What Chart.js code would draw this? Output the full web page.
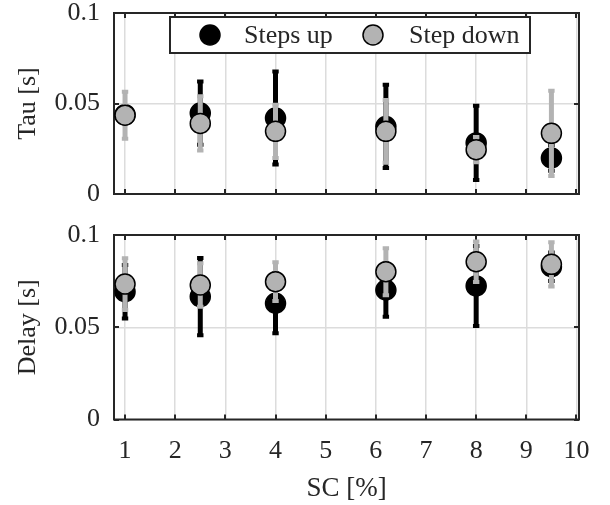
<!DOCTYPE html>
<html>
<head>
<meta charset="utf-8">
<script src="https://cdn.jsdelivr.net/npm/chart.js@4.4.1/dist/chart.umd.min.js"></script>
<style>
  html, body { margin: 0; padding: 0; background: #ffffff; }
  #wrap { position: relative; width: 610px; height: 505px; }
  canvas { position: absolute; left: 0; }
  #tauChart { top: 0; }
  #delayChart { top: 210px; }
</style>
</head>
<body>
<div id="wrap">
  <canvas id="tauChart" width="610" height="210"></canvas>
  <canvas id="delayChart" width="610" height="295"></canvas>
</div>
<script>
// Short-circuit level (%) at which each group of steps was measured
const scPercent = [1, 2.5, 4, 6.2, 8, 9.5];

// Time constant (s): mean and half-width of the spread
const tauUp       = [0.0438, 0.0447, 0.0420, 0.0373, 0.0282, 0.0199];
const tauUpErr    = [0.0040, 0.0175, 0.0257, 0.0230, 0.0205, 0.0070];
const tauDown     = [0.0435, 0.0390, 0.0346, 0.0346, 0.0245, 0.0335];
const tauDownErr  = [0.0130, 0.0150, 0.0147, 0.0173, 0.0070, 0.0235];

// Delay (s): mean and half-width of the spread
const delayUp      = [0.0693, 0.0666, 0.0630, 0.0702, 0.0724, 0.0828];
const delayUpErr   = [0.0145, 0.0210, 0.0163, 0.0145, 0.0217, 0.0077];
const delayDown    = [0.0734, 0.0729, 0.0747, 0.0801, 0.0855, 0.0841];
const delayDownErr = [0.0140, 0.0118, 0.0105, 0.0127, 0.0110, 0.0120];

// Axis ticks and labels
const xTicks = [1, 2, 3, 4, 5, 6, 7, 8, 9, 10];
const yTicks = [0, 0.05, 0.1];
const seriesNames = ['Steps up', 'Step down'];
const xTitle = 'SC [%]';
const tauTitle = 'Tau [s]';
const delayTitle = 'Delay [s]';

const FONT = "'Liberation Serif', 'Times New Roman', serif";
const INK = '#262626';
const GRID = '#dcdcdc';
const BLACK = '#000000';
const GREY = '#b3b3b3';
const MARKER_R = 10;

Chart.defaults.font.family = FONT;
Chart.defaults.font.size = 26;
Chart.defaults.color = INK;

const toPoints = (ys) => scPercent.map((x, i) => ({ x, y: ys[i] }));

// Vertical error bars, painted just before the markers of the same series
const errorBars = {
  id: 'errorBars',
  beforeDatasetDraw(chart, args) {
    const ds = chart.data.datasets[args.index];
    if (!ds.errors) return;
    const xs = chart.scales.x, ys = chart.scales.y, ctx = chart.ctx;
    ctx.save();
    ctx.strokeStyle = ds.barColor;
    ctx.lineCap = 'butt';
    ds.data.forEach((p, i) => {
      const e = ds.errors[i];
      const px = xs.getPixelForValue(p.x);
      const lo = ys.getPixelForValue(p.y - e);
      const hi = ys.getPixelForValue(p.y + e);
      ctx.lineWidth = 5;
      ctx.beginPath(); ctx.moveTo(px, lo); ctx.lineTo(px, hi); ctx.stroke();
      ctx.lineWidth = 4;
      ctx.beginPath();
      ctx.moveTo(px - 3.2, lo); ctx.lineTo(px + 3.2, lo);
      ctx.moveTo(px - 3.2, hi); ctx.lineTo(px + 3.2, hi);
      ctx.stroke();
    });
    ctx.restore();
  }
};

// Axes box with inward tick marks on all four sides
const axesBox = {
  id: 'axesBox',
  beforeDatasetsDraw(chart) {
    const { ctx, chartArea: a } = chart;
    const xs = chart.scales.x, ys = chart.scales.y;
    ctx.save();
    ctx.strokeStyle = INK;
    ctx.lineWidth = 2;
    ctx.beginPath();
    xs.ticks.forEach(t => {
      const px = Math.round(xs.getPixelForValue(t.value));
      ctx.moveTo(px, a.bottom); ctx.lineTo(px, a.bottom - 5);
      ctx.moveTo(px, a.top); ctx.lineTo(px, a.top + 5);
    });
    ys.ticks.forEach(t => {
      const py = Math.round(ys.getPixelForValue(t.value));
      ctx.moveTo(a.left, py); ctx.lineTo(a.left + 5, py);
      ctx.moveTo(a.right, py); ctx.lineTo(a.right - 5, py);
    });
    ctx.stroke();
    ctx.strokeRect(a.left, a.top, a.right - a.left, a.bottom - a.top);
    ctx.restore();
  }
};

// Boxed legend inside the upper axes
const boxLegend = {
  id: 'boxLegend',
  afterDraw(chart, args, opts) {
    if (!opts.show) return;
    const ctx = chart.ctx;
    const box = { x: 170, y: 17, w: 360, h: 36 };
    const cy = box.y + box.h / 2;
    ctx.save();
    ctx.fillStyle = '#ffffff';
    ctx.fillRect(box.x, box.y, box.w, box.h);
    ctx.strokeStyle = INK;
    ctx.lineWidth = 2;
    ctx.strokeRect(box.x, box.y, box.w, box.h);
    const entries = [{ mx: 210, tx: 244 }, { mx: 373, tx: 409 }];
    chart.data.datasets.forEach((ds, i) => {
      const e = entries[i];
      ctx.beginPath();
      ctx.arc(e.mx, cy, MARKER_R, 0, Math.PI * 2);
      ctx.fillStyle = ds.backgroundColor;
      ctx.fill();
      ctx.lineWidth = 1.5;
      ctx.strokeStyle = ds.borderColor;
      ctx.stroke();
      ctx.fillStyle = INK;
      ctx.font = '26px ' + FONT;
      ctx.textBaseline = 'middle';
      ctx.textAlign = 'left';
      ctx.fillText(ds.label, e.tx, cy + 1);
    });
    ctx.restore();
  }
};

function makeChart(canvasId, up, upErr, down, downErr, cfg) {
  const series = (label, ys, errs, fill, bar, order) => ({
    label,
    data: toPoints(ys),
    errors: errs,
    barColor: bar,
    backgroundColor: fill,
    borderColor: BLACK,
    borderWidth: 1.5,
    pointRadius: MARKER_R,
    pointHoverRadius: MARKER_R,
    showLine: false,
    clip: false,
    order
  });
  return new Chart(document.getElementById(canvasId), {
    type: 'scatter',
    data: {
      datasets: [
        series(seriesNames[0], up, upErr, BLACK, BLACK, 2),
        series(seriesNames[1], down, downErr, GREY, GREY, 1)
      ]
    },
    options: {
      responsive: false,
      animation: false,
      events: [],
      layout: { padding: { top: cfg.top, right: 31, left: 0, bottom: 0 } },
      plugins: {
        legend: { display: false },
        tooltip: { enabled: false },
        boxLegend: { show: cfg.legend }
      },
      scales: {
        x: {
          type: 'linear',
          min: 0.78,
          max: 10.05,
          afterBuildTicks: s => { s.ticks = xTicks.map(v => ({ value: v })); },
          afterFit: s => { s.height = cfg.xHeight; s.paddingLeft = 0; s.paddingRight = 0; },
          grid: { color: GRID, lineWidth: 1.5, drawTicks: false },
          border: { display: false },
          ticks: {
            display: cfg.xLabels,
            padding: 16,
            maxRotation: 0,
            autoSkip: false,
            color: INK,
            font: { size: 26 },
            callback: v => String(v)
          },
          title: {
            display: cfg.xLabels,
            text: xTitle,
            color: INK,
            font: { size: 27 },
            padding: { top: 3, bottom: 0 }
          }
        },
        y: {
          type: 'linear',
          min: 0,
          max: 0.1,
          afterBuildTicks: s => { s.ticks = yTicks.map(v => ({ value: v })); },
          afterFit: s => { s.width = 114; s.paddingTop = 0; s.paddingBottom = 0; },
          grid: { color: GRID, lineWidth: 1.5, drawTicks: false },
          border: { display: false },
          ticks: {
            padding: 14,
            color: INK,
            font: { size: 26 },
            callback: v => (v === 0 ? '0' : String(+v.toFixed(2)))
          },
          title: {
            display: true,
            text: cfg.yTitle,
            color: INK,
            font: { size: 26 },
            padding: { top: 13, bottom: 0 }
          }
        }
      }
    },
    plugins: [errorBars, axesBox, boxLegend]
  });
}

makeChart('tauChart', tauUp, tauUpErr, tauDown, tauDownErr,
  { top: 13, xHeight: 16, xLabels: false, legend: true, yTitle: tauTitle });
makeChart('delayChart', delayUp, delayUpErr, delayDown, delayDownErr,
  { top: 25, xHeight: 85.5, xLabels: true, legend: false, yTitle: delayTitle });
</script>
</body>
</html>
